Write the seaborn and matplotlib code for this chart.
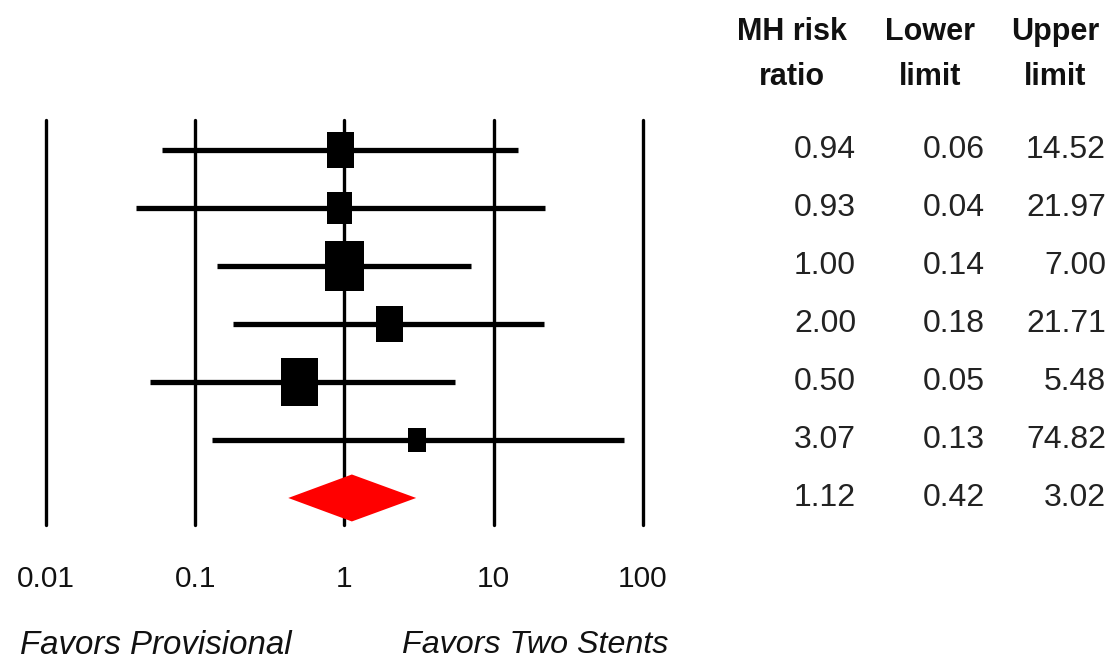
import numpy as np
import matplotlib
matplotlib.use("Agg")
import matplotlib.pyplot as plt
import seaborn as sns
import pandas as pd

# ---------------- data ----------------
risk_ratio = [0.94, 0.93, 1.00, 2.00, 0.50, 3.07]
lower_limit = [0.06, 0.04, 0.14, 0.18, 0.05, 0.13]
upper_limit = [14.52, 21.97, 7.00, 21.71, 5.48, 74.82]
study_weight = [16, 13, 33, 16, 29, 7]
summary_rr = 1.12
summary_lower = 0.42
summary_upper = 3.02
x_ticks = [0.01, 0.1, 1, 10, 100]
x_tick_labels = ["0.01", "0.1", "1", "10", "100"]
header_line1 = ["MH risk", "Lower", "Upper"]
header_line2 = ["ratio", "limit", "limit"]
left_label = "Favors Provisional"
right_label = "Favors Two Stents"

# ---------------- styling ----------------
sns.set_style("white")
plt.rcParams["font.family"] = ["Liberation Sans", "DejaVu Sans"]

W, H = 1115, 661
fig = plt.figure(figsize=(W / 100, H / 100), dpi=100)

ax_top, ax_bot = 120, 525
ax_rect = [46 / W, (H - ax_bot) / H, (643 - 46) / W, (ax_bot - ax_top) / H]
ax = fig.add_axes(ax_rect)

n = len(risk_ratio)
rows = list(range(n))
summary_row = n
ylim = (summary_row + 0.466, -0.517)

df = pd.DataFrame({"rr": risk_ratio, "lo": lower_limit, "hi": upper_limit,
                   "row": rows, "weight": study_weight})

# vertical reference lines
for t in x_ticks:
    ax.axvline(t, color="black", lw=2.4, zorder=1, clip_on=False)

# confidence intervals
ax.hlines(df["row"], df["lo"], df["hi"], color="black", lw=3.8, zorder=3)

# weighted squares (slightly tall rectangles)
rect = [(-0.39, -0.5), (0.39, -0.5), (0.39, 0.5), (-0.39, 0.5), (-0.39, -0.5)]
k = 40.1
sns.scatterplot(data=df, x="rr", y="row", size="weight",
                sizes=(k * min(study_weight), k * max(study_weight)),
                marker=rect, color="black", linewidth=0, legend=False,
                ax=ax, zorder=4)

# summary diamond
hh = 0.405
ax.fill([summary_lower, summary_rr, summary_upper, summary_rr],
        [summary_row, summary_row - hh, summary_row, summary_row + hh],
        color="#ff0000", lw=0, zorder=5)

ax.set_xscale("log")
ax.set_xlim(0.01, 100)
ax.set_ylim(*ylim)
ax.xaxis.set_minor_locator(matplotlib.ticker.NullLocator())
ax.set_xticks(x_ticks)
ax.set_xticklabels(x_tick_labels)
ax.tick_params(axis="x", length=0, pad=29, labelsize=21.5, labelcolor="#111111")
ax.set_yticks([])
ax.set_xlabel("")
ax.set_ylabel("")
for s in ax.spines.values():
    s.set_visible(False)
ax.patch.set_alpha(0)

# bottom labels
fig.text(20 / W, 1 - 645 / H, left_label, style="italic", fontsize=23.8,
         ha="left", va="center", color="#111111")
fig.text(668 / W, 1 - 645 / H, right_label, style="italic", fontsize=23.2,
         ha="right", va="center", color="#111111")

# ---------------- table ----------------
tax = fig.add_axes([700 / W, ax_rect[1], 415 / W, ax_rect[3]])
tax.set_xlim(700, 1115)
tax.set_ylim(*ylim)
tax.axis("off")

col_right = [856, 985, 1106]
col_center = [792, 930, 1055]
hdr_y1 = (32 - 150) / 58
hdr_y2 = (77 - 150) / 58
for c, l1, l2 in zip(col_center, header_line1, header_line2):
    tax.text(c, hdr_y1, l1, ha="center", va="center", fontsize=22,
             fontweight="bold", color="#111111", clip_on=False)
    tax.text(c, hdr_y2, l2, ha="center", va="center", fontsize=22,
             fontweight="bold", color="#111111", clip_on=False)

all_rr = risk_ratio + [summary_rr]
all_lo = lower_limit + [summary_lower]
all_hi = upper_limit + [summary_upper]
for r, (a, b, c) in enumerate(zip(all_rr, all_lo, all_hi)):
    for xr, v in zip(col_right, (a, b, c)):
        tax.text(xr, r, f"{v:.2f}", ha="right", va="center", fontsize=23,
                 color="#222222", clip_on=False)

fig.savefig("out.png", dpi=100)
